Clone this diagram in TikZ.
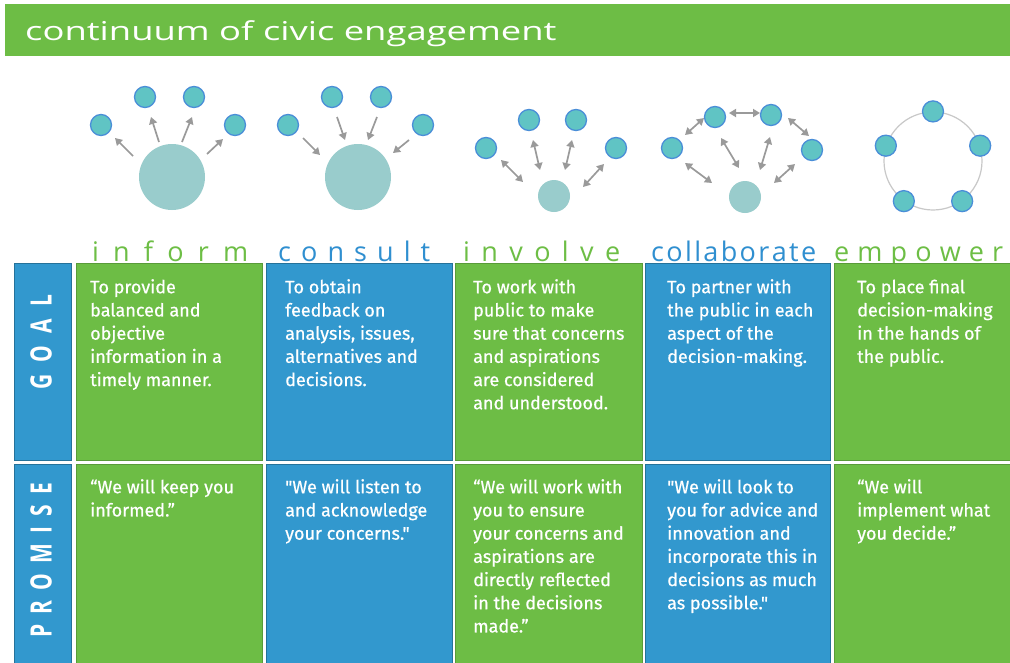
\documentclass[tikz,border=0pt]{standalone}
\usepackage{fontspec}
\usepackage{graphicx}
\setmainfont{Fira Sans}
\newfontfamily\cellfont[FakeBold=0.6]{Fira Sans}
\newfontfamily\titlefont[FakeStretch=1.4]{Open Sans}
\newfontfamily\lblfont{Open Sans}
\usetikzlibrary{arrows.meta,calc}
\definecolor{cgreen}{HTML}{6DBD45}
\definecolor{cblue}{HTML}{3298CE}
\definecolor{lgreen}{HTML}{6DBE45}
\definecolor{lblue}{HTML}{2F8FD0}
\definecolor{smallfill}{HTML}{60C4C4}
\definecolor{smalledge}{HTML}{4A8ED8}
\definecolor{bigfill}{HTML}{99CCCC}
\definecolor{arrgray}{HTML}{9A9A9A}
\definecolor{ringgray}{HTML}{C8C8C8}
\newcommand\spreadbox[2]{\makebox[#1][s]{#2}}
\newcommand\sq{\symbol{34}}
\begin{document}
\begin{tikzpicture}[x=1pt,y=-1pt,
  cellbox/.style={rectangle, anchor=north west, inner sep=0pt, line width=0.7pt},
  greencell/.style={cellbox, fill=cgreen, draw=cgreen!82!black},
  bluecell/.style={cellbox, fill=cblue, draw=cblue!75!black},
  txt/.style={anchor=north west, inner sep=0pt, text=white, align=left, font=\cellfont\fontsize{18}{23.2}\selectfont},
  hdr/.style={rotate=90, inner sep=0pt, text=white, font=\lblfont\bfseries\fontsize{21}{21}\selectfont},
  lbl/.style={anchor=base west, inner sep=0pt, font=\lblfont\fontsize{27}{27}\selectfont},
  small/.style={circle, fill=smallfill, draw=smalledge, line width=1.3pt, minimum size=21pt, inner sep=0pt},
  big/.style={circle, fill=bigfill, inner sep=0pt},
  arr/.style={draw=arrgray, line width=1.7pt, -{Triangle[length=7pt,width=8pt]}},
  darr/.style={draw=arrgray, line width=1.7pt, {Triangle[length=7pt,width=8pt]}-{Triangle[length=7pt,width=8pt]}}
]
\useasboundingbox (0,0) rectangle (1010,662);
\fill[white] (0,0) rectangle (1010,662);

% title bar
\node[rectangle, anchor=north west, inner sep=0pt, fill=cgreen, minimum width=1006pt, minimum height=52pt] (bar) at (4.5,4) {};
\node[anchor=base west, inner sep=0pt, text=white, font=\titlefont\fontsize{26}{26}\selectfont] (title) at (25,40) {continuum of civic engagement};

% ---------- inform ----------
\node[big, minimum size=66pt] (ib) at (172,177) {};
\node[small] (i1) at (101,125) {};
\node[small] (i2) at (145,97) {};
\node[small] (i3) at (194,97) {};
\node[small] (i4) at (235,125) {};
\draw[arr] ($(ib)+(-39,-21)$) -- ($(i1)+(14,13)$);
\draw[arr] ($(ib)+(-13,-35)$) -- ($(i2)+(6,20)$);
\draw[arr] ($(ib)+(10,-35)$) -- ($(i3)+(-2,20)$);
\draw[arr] ($(ib)+(35,-23)$) -- ($(i4)+(-12,14)$);

% ---------- consult ----------
\node[big, minimum size=66pt] (cb) at (358,177) {};
\node[small] (c1) at (288,125) {};
\node[small] (c2) at (332,97) {};
\node[small] (c3) at (381,97) {};
\node[small] (c4) at (423,125) {};
\draw[arr] ($(c1)+(15,13)$) -- ($(cb)+(-38,-22)$);
\draw[arr] ($(c2)+(5,20)$) -- ($(cb)+(-13,-37)$);
\draw[arr] ($(c3)+(-4,20)$) -- ($(cb)+(10,-37)$);
\draw[arr] ($(c4)+(-14,15)$) -- ($(cb)+(35,-24)$);

% ---------- involve ----------
\node[big, minimum size=32pt] (vb) at (554,196) {};
\node[small] (v1) at (486,148) {};
\node[small] (v2) at (529,120) {};
\node[small] (v3) at (576,120) {};
\node[small] (v4) at (616,148) {};
\draw[darr] ($(v1)+(15,12)$) -- ($(vb)+(-31,-14)$);
\draw[darr] ($(v2)+(4,20)$) -- ($(vb)+(-14,-26)$);
\draw[darr] ($(v3)+(-4,20)$) -- ($(vb)+(11,-26)$);
\draw[darr] ($(v4)+(-12,16)$) -- ($(vb)+(29,-9)$);

% ---------- collaborate ----------
\node[big, minimum size=32pt] (lb) at (745,197) {};
\node[small] (l1) at (672,148) {};
\node[small] (l2) at (715,117) {};
\node[small] (l3) at (771,115) {};
\node[small] (l4) at (812,150) {};
\draw[darr] ($(l1)+(13,-13)$) -- ($(l2)+(-11,1)$);
\draw[darr] ($(l2)+(14,-4)$) -- ($(l3)+(-11,-2)$);
\draw[darr] ($(l3)+(17,3)$) -- ($(l4)+(-3,-14)$);
\draw[darr] ($(l1)+(13,15)$) -- ($(lb)+(-33,-14)$);
\draw[darr] ($(l2)+(6,21)$) -- ($(lb)+(-6,-29)$);
\draw[darr] ($(l3)+(-1,22)$) -- ($(lb)+(15,-27)$);
\draw[darr] ($(l4)+(-17,14)$) -- ($(lb)+(29,-14)$);

% ---------- empower ----------
\node[circle, draw=ringgray, line width=1.2pt, minimum size=98pt, inner sep=0pt] (em) at (933,161) {};
\node[small] (e1) at (em.90) {};
\node[small] (e2) at (em.18) {};
\node[small] (e3) at (em.-54) {};
\node[small] (e4) at (em.-126) {};
\node[small] (e5) at (em.162) {};

% ---------- column labels ----------
\node[lbl, text=lgreen] (linform) at (92,261) {\spreadbox{156pt}{i\hfill n\hfill f\hfill o\hfill r\hfill m}};
\node[lbl, text=lblue] (lconsult) at (278,261) {\spreadbox{152pt}{c\hfill o\hfill n\hfill s\hfill u\hfill l\hfill t}};
\node[lbl, text=lgreen] (linvolve) at (463,261) {\spreadbox{157pt}{i\hfill n\hfill v\hfill o\hfill l\hfill v\hfill e}};
\node[lbl, text=lblue] (lcollab) at (651,261) {\spreadbox{165pt}{c\hfill o\hfill l\hfill l\hfill a\hfill b\hfill o\hfill r\hfill a\hfill t\hfill e}};
\node[lbl, text=lgreen] (lempower) at (834,261) {\spreadbox{169pt}{e\hfill m\hfill p\hfill o\hfill w\hfill e\hfill r}};

% ---------- table cells ----------
\node[bluecell, minimum width=57pt, minimum height=197pt] (h1) at (14,263) {};
\node[bluecell, minimum width=57pt, minimum height=200pt] (h2) at (14,464) {};
\node[greencell, minimum width=186pt, minimum height=197pt] (g1) at (76,263) {};
\node[bluecell, minimum width=186pt, minimum height=197pt] (g2) at (266,263) {};
\node[greencell, minimum width=187pt, minimum height=197pt] (g3) at (455,263) {};
\node[bluecell, minimum width=185pt, minimum height=197pt] (g4) at (645,263) {};
\node[greencell, minimum width=180pt, minimum height=197pt] (g5) at (834,263) {};
\node[greencell, minimum width=186pt, minimum height=200pt] (p1) at (76,464) {};
\node[bluecell, minimum width=186pt, minimum height=200pt] (p2) at (266,464) {};
\node[greencell, minimum width=187pt, minimum height=200pt] (p3) at (455,464) {};
\node[bluecell, minimum width=185pt, minimum height=200pt] (p4) at (645,464) {};
\node[greencell, minimum width=180pt, minimum height=200pt] (p5) at (834,464) {};

% row headers
\node[hdr] (goal) at (41,342) {\scalebox{1}[1.4]{\spreadbox{95pt}{G\hfill O\hfill A\hfill L}}};
\node[hdr] (promise) at (41,560) {\scalebox{1}[1.4]{\spreadbox{155pt}{P\hfill R\hfill O\hfill M\hfill I\hfill S\hfill E}}};

% goal texts
\node[txt] (tg1) at (90,279) {\rule{0pt}{14pt}To provide\\balanced and\\objective\\information in a\\timely manner.};
\node[txt] (tg2) at (285,279) {\rule{0pt}{14pt}To obtain\\feedback on\\analysis, issues,\\alternatives and\\decisions.};
\node[txt] (tg3) at (473,279) {\rule{0pt}{14pt}To work with\\public to make\\sure that concerns\\and aspirations\\are considered\\and understood.};
\node[txt] (tg4) at (667,279) {\rule{0pt}{14pt}To partner with\\the public in each\\aspect of the\\decision-making.};
\node[txt] (tg5) at (857,279) {\rule{0pt}{14pt}To place final\\decision-making\\in the hands of\\the public.};

% promise texts
\node[txt] (tp1) at (90,479) {\rule{0pt}{14pt}“We will keep you\\informed.”};
\node[txt] (tp2) at (285,479) {\rule{0pt}{14pt}\sq We will listen to\\and acknowledge\\your concerns.\sq};
\node[txt] (tp3) at (473,479) {\rule{0pt}{14pt}“We will work with\\you to ensure\\your concerns and\\aspirations are\\directly reflected\\in the decisions\\made.”};
\node[txt] (tp4) at (667,479) {\rule{0pt}{14pt}\sq We will look to\\you for advice and\\innovation and\\incorporate this in\\decisions as much\\as possible.\sq};
\node[txt] (tp5) at (857,479) {\rule{0pt}{14pt}“We will\\implement what\\you decide.”};
\end{tikzpicture}
\end{document}
